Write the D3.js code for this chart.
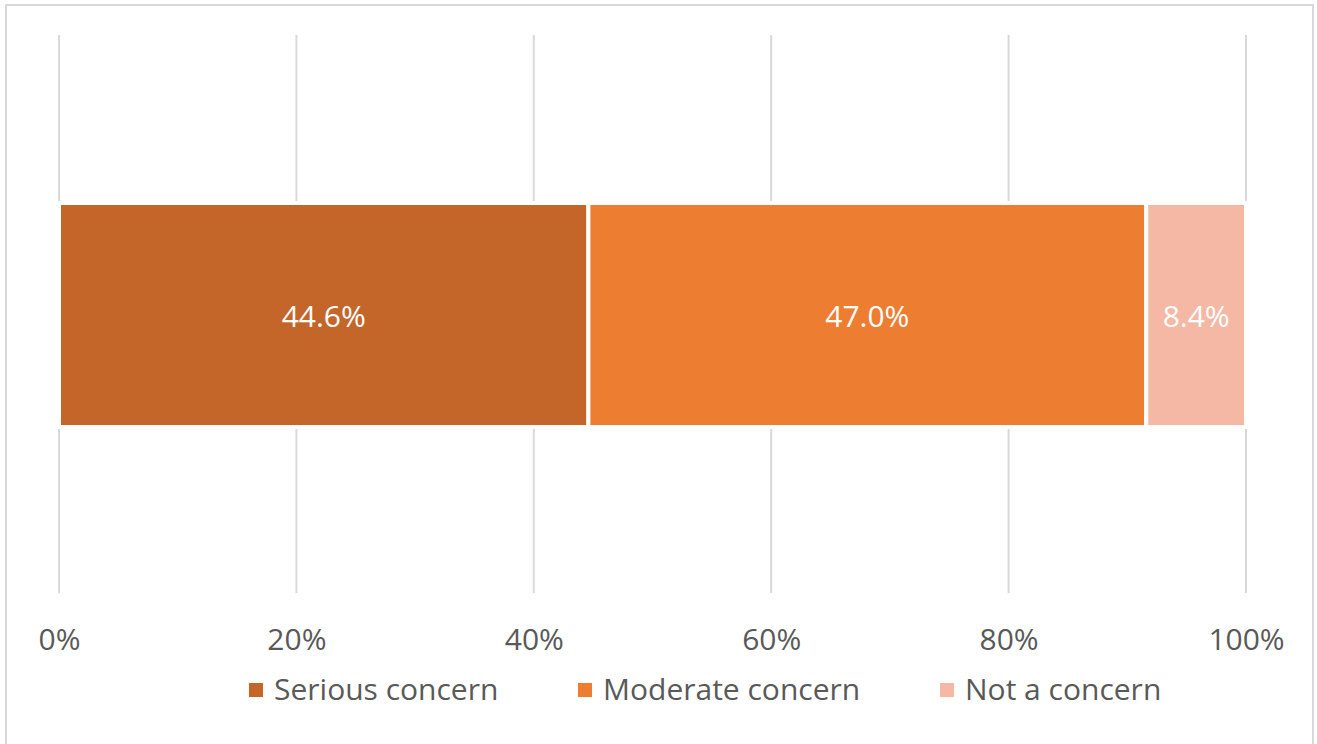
<!DOCTYPE html>
<html><head><meta charset="utf-8">
<script src="https://cdn.jsdelivr.net/npm/d3@7"></script>
<style>body{margin:0;background:#fff}svg{display:block}</style>
</head><body>
<script>
const categories = ["Serious concern", "Moderate concern", "Not a concern"];
const values = [44.6, 47.0, 8.4];
const colors = ["#C4652A", "#ED7D31", "#F4B8A5"];
const tickValues = [0, 20, 40, 60, 80, 100];

const W = 1317, H = 744;
const svg = d3.select("body").append("svg").attr("width", W).attr("height", H);
const font = "'Open Sans', Lato, sans-serif";
const fw = 400;
const fs = "30px";

svg.append("rect").attr("x", 6).attr("y", 5).attr("width", 1307).attr("height", 760)
  .attr("fill", "#fff").attr("stroke", "#d9d9d9").attr("stroke-width", 2);

const x = d3.scaleLinear().domain([0, 100]).range([59, 1246]);

// gridlines
svg.append("g").selectAll("line").data(tickValues).join("line")
  .attr("x1", d => x(d)).attr("x2", d => x(d))
  .attr("y1", 35).attr("y2", 593)
  .attr("stroke", "#d9d9d9").attr("stroke-width", 2);

// stacked
let cum = 0;
const stacked = values.map((v, i) => { const s = {start: cum, end: cum + v, v, i}; cum += v; return s; });

const bandY = 203, bandH = 224;
svg.append("g").selectAll("rect").data(stacked).join("rect")
  .attr("x", d => x(d.start)).attr("width", d => x(d.end) - x(d.start))
  .attr("y", bandY).attr("height", bandH)
  .attr("fill", d => colors[d.i]).attr("stroke", "#fff").attr("stroke-width", 4);

svg.append("g").selectAll("text").data(stacked).join("text")
  .attr("x", d => (x(d.start) + x(d.end)) / 2).attr("y", bandY + bandH / 2 + 12)
  .attr("text-anchor", "middle").attr("fill", "#fff")
  .style("font-family", font).style("font-weight", fw).style("font-size", fs)
  .text(d => d.v.toFixed(1) + "%");

// axis labels
const axis = d3.axisBottom(x).tickValues(tickValues).tickFormat(d => d + "%").tickSize(0).tickPadding(0);
const ax = svg.append("g").attr("transform", "translate(0,629)").call(axis);
ax.select(".domain").remove();
ax.selectAll("text").attr("dy", 0).attr("y", 21).attr("fill", "#595959")
  .style("font-family", font).style("font-weight", fw).style("font-size", fs);

// legend
const legX = [249, 578, 940];
const lg = svg.append("g").selectAll("g").data(categories).join("g")
  .attr("transform", (d, i) => `translate(${legX[i]},683)`);
lg.append("rect").attr("width", 14).attr("height", 14).attr("fill", (d, i) => colors[i]);
lg.append("text").attr("x", 25).attr("y", 17).attr("fill", "#595959")
  .style("font-family", font).style("font-weight", fw).style("font-size", fs).text(d => d);
</script>
</body></html>
